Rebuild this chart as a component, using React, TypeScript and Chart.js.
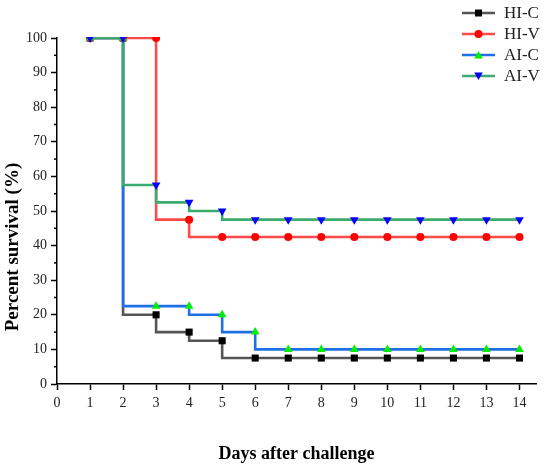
import React, { useEffect, useRef } from 'react';
import { Chart, registerables } from 'chart.js';

Chart.register(...registerables);

const days = [1, 2, 3, 4, 5, 6, 7, 8, 9, 10, 11, 12, 13, 14];
const hiC = [100, 100, 20, 15, 12.5, 7.5, 7.5, 7.5, 7.5, 7.5, 7.5, 7.5, 7.5, 7.5];
const hiV = [100, 100, 100, 47.5, 42.5, 42.5, 42.5, 42.5, 42.5, 42.5, 42.5, 42.5, 42.5, 42.5];
const aiC = [100, 100, 22.5, 22.5, 20, 15, 10, 10, 10, 10, 10, 10, 10, 10];
const aiV = [100, 100, 57.5, 52.5, 50, 47.5, 47.5, 47.5, 47.5, 47.5, 47.5, 47.5, 47.5, 47.5];
const seriesNames = ['HI-C', 'HI-V', 'AI-C', 'AI-V'];
const xTicks = [0, 1, 2, 3, 4, 5, 6, 7, 8, 9, 10, 11, 12, 13, 14];
const yTitle = 'Percent survival (%)';

const SERIF = '"Liberation Serif", "Times New Roman", serif';
const LINE_W = 2.6;

// minor ticks on the y axis (every 5, between the labelled 10s)
const minorTicks = {
  id: 'minorTicks',
  afterDraw(chart: Chart) {
    const y = chart.scales.y;
    const ctx = chart.ctx;
    const left = chart.chartArea.left;
    ctx.save();
    ctx.strokeStyle = '#000';
    ctx.lineWidth = 1.5;
    for (let v = 5; v < 100; v += 10) {
      const py = y.getPixelForValue(v);
      ctx.beginPath();
      ctx.moveTo(left - 3, py);
      ctx.lineTo(left, py);
      ctx.stroke();
    }
    ctx.restore();
  },
};

// y title sits a bit below the middle in the original, so draw it by hand
const sideTitle = {
  id: 'sideTitle',
  afterDraw(chart: Chart) {
    const ctx = chart.ctx;
    ctx.save();
    ctx.translate(13, 247);
    ctx.rotate(-Math.PI / 2);
    ctx.fillStyle = '#000';
    ctx.font = `bold 19px ${SERIF}`;
    ctx.textAlign = 'center';
    ctx.textBaseline = 'middle';
    ctx.fillText(yTitle, 0, 0);
    ctx.restore();
  },
};

// legend drawn over the top right corner, like the original
const cornerLegend = {
  id: 'cornerLegend',
  afterDraw(chart: Chart) {
    const ctx = chart.ctx;
    ctx.save();
    chart.data.datasets.forEach((ds: any, i: number) => {
      const cy = 13 + i * 21;
      const cx = 478.5;
      ctx.strokeStyle = ds.borderColor;
      ctx.lineWidth = LINE_W;
      ctx.beginPath();
      ctx.moveTo(462, cy);
      ctx.lineTo(495, cy);
      ctx.stroke();
      ctx.fillStyle = ds.pointBackgroundColor;
      ctx.beginPath();
      if (ds.pointStyle === 'rect') {
        ctx.rect(cx - 3.5, cy - 3.5, 7, 7);
      } else if (ds.pointStyle === 'circle') {
        ctx.arc(cx, cy, ds.pointRadius, 0, Math.PI * 2);
      } else {
        const up = ds.rotation ? -1 : 1;
        ctx.moveTo(cx - 4.3, cy + up * 3.5);
        ctx.lineTo(cx + 4.3, cy + up * 3.5);
        ctx.lineTo(cx, cy - up * 4);
        ctx.closePath();
      }
      ctx.fill();
      ctx.fillStyle = '#222';
      ctx.font = `17px ${SERIF}`;
      ctx.textBaseline = 'middle';
      ctx.fillText(seriesNames[i], 504, cy + 1);
    });
    ctx.restore();
  },
};

export default function App() {
  const canvasRef = useRef<HTMLCanvasElement>(null);
  const chartRef = useRef<Chart | null>(null);

  useEffect(() => {
    if (!canvasRef.current) return;
    if (chartRef.current) chartRef.current.destroy();

    const ctx = canvasRef.current.getContext('2d');
    if (!ctx) return;

    const pts = (vals: number[]) => days.map((d, i) => ({ x: d, y: vals[i] }));
    const clip = { left: 8, right: 8, top: 1, bottom: 8 };
    const common = {
      stepped: 'after' as const,
      borderWidth: LINE_W,
      pointBorderWidth: 0,
      clip,
    };

    chartRef.current = new Chart(ctx, {
      type: 'line',
      data: {
        datasets: [
          {
            ...common,
            label: seriesNames[0],
            data: pts(hiC),
            borderColor: '#555555',
            pointBackgroundColor: '#000000',
            pointBorderColor: '#000000',
            pointStyle: 'rect',
            pointRadius: 5,
            rotation: 0,
            order: 4,
          },
          {
            ...common,
            label: seriesNames[1],
            data: pts(hiV),
            borderColor: '#ff4a4a',
            pointBackgroundColor: '#ff0000',
            pointBorderColor: '#ff0000',
            pointStyle: 'circle',
            pointRadius: 4,
            rotation: 0,
            order: 3,
          },
          {
            ...common,
            label: seriesNames[2],
            data: pts(aiC),
            borderColor: '#1f6fe5',
            pointBackgroundColor: '#00ee00',
            pointBorderColor: '#00ee00',
            pointStyle: 'triangle',
            pointRadius: 5,
            rotation: 0,
            order: 2,
          },
          {
            ...common,
            label: seriesNames[3],
            data: pts(aiV),
            borderColor: '#3aaa6e',
            pointBackgroundColor: '#0000ff',
            pointBorderColor: '#0000ff',
            pointStyle: 'triangle',
            pointRadius: 5,
            rotation: 180,
            order: 1,
          },
        ],
      },
      options: {
        animation: false,
        responsive: true,
        maintainAspectRatio: false,
        layout: { padding: { left: 0, right: 14, top: 38, bottom: 3 } },
        plugins: {
          legend: { display: false },
          tooltip: { enabled: false },
        },
        scales: {
          x: {
            type: 'linear',
            min: 0,
            max: 14.5,
            afterBuildTicks: (s: any) => {
              s.ticks = xTicks.map(v => ({ value: v }));
            },
            afterFit: (s: any) => {
              s.height = 85;
            },
            grid: {
              drawOnChartArea: false,
              tickLength: 6,
              tickColor: '#000',
              tickWidth: 1.5,
            },
            border: { color: '#000', width: 1.5 },
            ticks: {
              color: '#222',
              padding: 5,
              maxRotation: 0,
              font: { family: SERIF, size: 14 },
            },
            title: {
              display: true,
              text: 'Days after challenge',
              color: '#000',
              padding: { top: 4, bottom: 4 },
              font: { family: SERIF, size: 18, weight: 'bold' },
            },
          },
          y: {
            min: 0,
            max: 100,
            afterFit: (s: any) => {
              s.width = 57;
            },
            grid: {
              drawOnChartArea: false,
              tickLength: 6,
              tickColor: '#000',
              tickWidth: 1.5,
            },
            border: { color: '#000', width: 1.5 },
            ticks: {
              stepSize: 10,
              color: '#222',
              padding: 4,
              font: { family: SERIF, size: 14 },
            },
            title: { display: false },
          },
        },
      },
      plugins: [minorTicks, sideTitle, cornerLegend],
    });

    return () => {
      if (chartRef.current) {
        chartRef.current.destroy();
        chartRef.current = null;
      }
    };
  }, []);

  return (
    <div style={{ position: 'fixed', left: 0, top: 0, width: 550, height: 472, background: '#fff' }}>
      <canvas ref={canvasRef}></canvas>
    </div>
  );
}
